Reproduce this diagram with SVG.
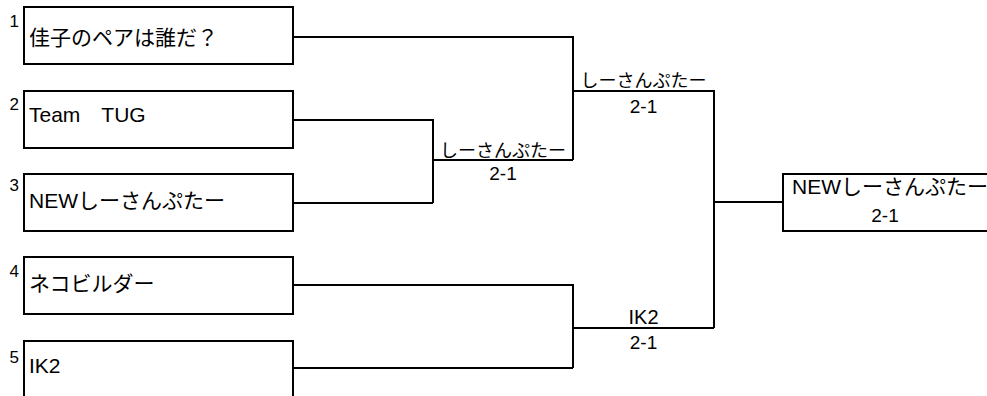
<svg xmlns="http://www.w3.org/2000/svg" width="987" height="396" viewBox="0 0 987 396">
<style>
.box{fill:#fff;stroke:#000;stroke-width:2}
.ln{fill:none;stroke:#000;stroke-width:2}
text{font-family:"Liberation Sans","Noto Sans CJK JP",sans-serif;fill:#000}
.name{font-size:21px}
.num{font-size:17px;text-anchor:end}
.win{font-size:18px;text-anchor:middle}
.score{font-size:19px;text-anchor:middle}
</style>
<rect width="987" height="396" fill="#fff"/>
<g id="connectors">
<path class="ln" d="M293,37H573V160M293,120H433V203M293,203H433M433,160H573M573,91H714V328M293,285H573V368M293,368H573M573,328H714M714,202H783"/>
</g>
<g id="team1">
<rect class="box" x="24" y="7" width="269" height="57"/>
<text class="num" x="19" y="27">1</text>
<text class="name" x="29" y="45">佳子のペアは誰だ？</text>
</g>
<g id="team2">
<rect class="box" x="24" y="91" width="269" height="57"/>
<text class="num" x="19" y="110">2</text>
<text class="name" x="29" y="122">Team　TUG</text>
</g>
<g id="team3">
<rect class="box" x="24" y="174" width="269" height="57"/>
<text class="num" x="19" y="191">3</text>
<text class="name" x="29" y="208">NEWしーさんぷたー</text>
</g>
<g id="team4">
<rect class="box" x="24" y="257" width="269" height="57"/>
<text class="num" x="19" y="277">4</text>
<text class="name" x="29" y="291">ネコビルダー</text>
</g>
<g id="team5">
<rect class="box" x="24" y="341" width="269" height="80"/>
<text class="num" x="19" y="363">5</text>
<text class="name" x="29" y="373">IK2</text>
</g>
<g id="semi1">
<text class="win" x="503" y="157">しーさんぷたー</text>
<text class="score" x="503" y="180">2-1</text>
</g>
<g id="final1">
<text class="win" x="643.5" y="87">しーさんぷたー</text>
<text class="score" x="643.5" y="113">2-1</text>
</g>
<g id="final2">
<text class="win" x="643.5" y="324" style="font-size:20px">IK2</text>
<text class="score" x="643.5" y="349">2-1</text>
</g>
<g id="champion">
<rect class="box" x="783" y="174" width="220" height="57"/>
<text class="name" x="792" y="194">NEWしーさんぷたー</text>
<text class="score" x="885" y="222">2-1</text>
</g>
</svg>
